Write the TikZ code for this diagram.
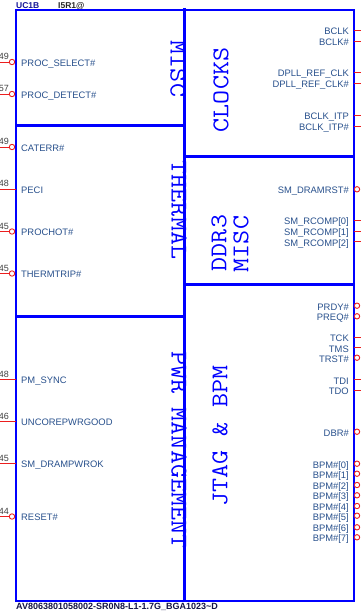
\documentclass[tikz,border=0pt]{standalone}
\usepackage{fontspec}
\usepackage{graphicx}
\setmainfont{Liberation Sans}
\definecolor{lblc}{RGB}{40,80,140}
\definecolor{boxblue}{RGB}{0,0,255}
\definecolor{pinred}{RGB}{235,30,30}
\definecolor{hdrblue}{RGB}{20,20,150}
\definecolor{footc}{RGB}{20,20,70}
\tikzset{
  lbl/.style={font=\fontsize{9.4}{10}\selectfont, text=lblc, inner sep=0pt},
  pinnum/.style={font=\fontsize{9}{9}\selectfont, text=black!75, inner sep=0pt},
  pinline/.style={draw=pinred, line width=0.9pt},
  pincirc/.style={draw=pinred, line width=0.9pt, fill=white},
  sectitle/.style={font=\fontsize{24}{24}\ttfamily, text=boxblue, inner sep=0pt},
  outline/.style={draw=boxblue, line width=2pt},
  divider/.style={draw=boxblue, line width=3pt},
  midline/.style={draw=boxblue, line width=3.5pt},
}
\newcommand\lpin[5]{%
  \node[lbl, anchor=base west] (L#1) at (21,#2+4.3) {#3};
  \node[pinnum, anchor=base east] (N#1) at (9,#2-2) {#4};
  \coordinate (E#1) at (0,#2);
  \ifnum#5=1
    \coordinate (C#1) at (12,#2);
    \draw[pinline] (E#1) -- ++(9.3,0);
    \draw[pincirc] (C#1) circle[radius=2.7pt];
  \else
    \coordinate (C#1) at (15.5,#2);
    \draw[pinline] (E#1) -- (C#1);
  \fi}
\newcommand\rpin[4]{%
  \node[lbl, anchor=base east] (R#1) at (349,#2+4.3) {#3};
  \coordinate (F#1) at (361,#2);
  \ifnum#4=1
    \coordinate (D#1) at (357,#2);
    \draw[pincirc] (D#1) circle[radius=2.7pt];
  \else
    \coordinate (D#1) at (354,#2);
    \draw[pinline] (D#1) -- (F#1);
  \fi}
\begin{document}
\begin{tikzpicture}[x=1pt,y=-1pt]
\useasboundingbox (0,0) rectangle (361,612);
% header / footer
\node[font=\bfseries\fontsize{8.5}{9}\selectfont, text=hdrblue, anchor=base west, inner sep=0pt] (hdr1) at (16,8.5) {UC1B};
\node[font=\bfseries\fontsize{8.5}{9}\selectfont, text=black!85, anchor=base west, inner sep=0pt] (hdr2) at (58,8.5) {I5R1@};
\node[font=\bfseries\fontsize{9}{9}\selectfont, text=footc, anchor=base west, inner sep=0pt] (foot) at (16,609.5) {AV8063801058002-SR0N8-L1-1.7G\_BGA1023\textasciitilde D};
% boxes
\draw[outline] (15.5,10) rectangle (354,600.5);
\draw[divider] (15.5,126) -- (184.5,126);
\draw[divider] (15.5,316) -- (184.5,316);
\draw[divider] (184.5,157) -- (354,157);
\draw[divider] (184.5,284) -- (354,284);
% section titles
\node[sectitle, rotate=-90] (tmisc) at (178,69) {\scalebox{1.135}[1]{MISC}};
\node[sectitle, rotate=-90] (ttherm) at (179,210) {\scalebox{1.135}[1]{THERMAL}};
\node[sectitle, rotate=-90] (tpwr) at (179,450) {\scalebox{1.135}[1]{PWR MANAGEMENT}};
\node[sectitle, rotate=90] (tclk) at (221,90) {\scalebox{1.135}[1]{CLOCKS}};
\node[sectitle, rotate=90] (tddr) at (219,243) {\scalebox{1.135}[1]{DDR3}};
\node[sectitle, rotate=90] (tddrm) at (241,244) {\scalebox{1.135}[1]{MISC}};
\node[sectitle, rotate=90] (tjtag) at (220,436) {\scalebox{1.135}[1]{JTAG \& BPM}};
\draw[midline] (184.5,8) -- (184.5,602);
% left pins
\lpin{a}{62}{PROC\_SELECT\#}{49}{1}
\lpin{b}{94}{PROC\_DETECT\#}{57}{1}
\lpin{c}{147}{CATERR\#}{49}{1}
\lpin{d}{189}{PECI}{48}{0}
\lpin{e}{231.5}{PROCHOT\#}{45}{1}
\lpin{f}{273.5}{THERMTRIP\#}{45}{1}
\lpin{g}{379.5}{PM\_SYNC}{48}{0}
\lpin{h}{421.5}{UNCOREPWRGOOD}{46}{0}
\lpin{i}{463.5}{SM\_DRAMPWROK}{45}{0}
\lpin{j}{516.5}{RESET\#}{44}{1}
% right pins
\rpin{a}{30.7}{BCLK}{0}
\rpin{b}{41.7}{BCLK\#}{0}
\rpin{c}{72.7}{DPLL\_REF\_CLK}{0}
\rpin{d}{83.7}{DPLL\_REF\_CLK\#}{0}
\rpin{e}{115.3}{BCLK\_ITP}{0}
\rpin{f}{126}{BCLK\_ITP\#}{0}
\rpin{g}{189.3}{SM\_DRAMRST\#}{1}
\rpin{h}{220.7}{SM\_RCOMP[0]}{0}
\rpin{i}{231.3}{SM\_RCOMP[1]}{0}
\rpin{j}{241.7}{SM\_RCOMP[2]}{0}
\rpin{k}{305.7}{PRDY\#}{1}
\rpin{l}{316.3}{PREQ\#}{1}
\rpin{m}{337.3}{TCK}{0}
\rpin{n}{347.7}{TMS}{0}
\rpin{o}{357.7}{TRST\#}{1}
\rpin{p}{379.7}{TDI}{0}
\rpin{q}{390}{TDO}{0}
\rpin{r}{431.7}{DBR\#}{1}
\rpin{s}{463.7}{BPM\#[0]}{1}
\rpin{t}{473.7}{BPM\#[1]}{1}
\rpin{u}{485}{BPM\#[2]}{1}
\rpin{v}{495.3}{BPM\#[3]}{1}
\rpin{w}{506}{BPM\#[4]}{1}
\rpin{x}{515.7}{BPM\#[5]}{1}
\rpin{y}{527.3}{BPM\#[6]}{1}
\rpin{z}{537.3}{BPM\#[7]}{1}
\end{tikzpicture}
\end{document}
